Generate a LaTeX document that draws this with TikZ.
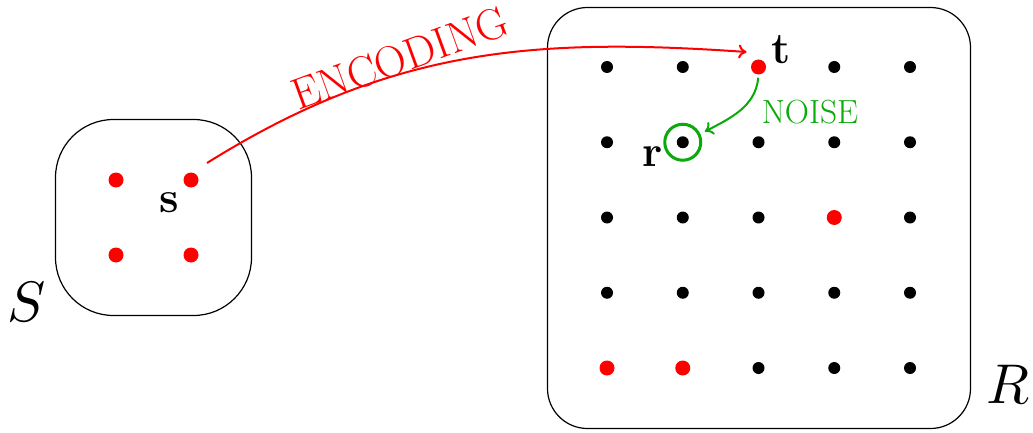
\documentclass[tikz,border=0pt]{standalone}
\usetikzlibrary{arrows.meta}
\definecolor{noisegreen}{RGB}{10,170,10}
\begin{document}
\begin{tikzpicture}[x=1pt,y=1pt,
  dot/.style={circle,fill=black,inner sep=0pt,minimum size=12pt},
  reddot/.style={circle,fill=red,inner sep=0pt,minimum size=15pt},
  setbox/.style={draw,line width=1.2pt,inner sep=0pt},
  ptlabel/.style={font=\fontsize{44}{44}\selectfont\bfseries},
  arrowtip/.style={-{To[length=8pt,width=14pt]}}]
\useasboundingbox (0,0) rectangle (1033,432);

% the two sets
\node[setbox,minimum width=196pt,minimum height=196pt,rounded corners=58pt] (Sbox) at (153.5,214.5) {};
\node[setbox,minimum width=423pt,minimum height=421pt,rounded corners=40pt] (Rbox) at (759,214) {};
\node (Slab) at (27,130) {\scalebox{5.7}{$S$}};
\node (Rlab) at (1008,48) {\scalebox{5.6}{$R$}};

% source points
\node[reddot] (s1) at (116,252) {};
\node[reddot] (s) at (191,252) {};
\node[reddot] (s3) at (116,177) {};
\node[reddot] (s4) at (191,177) {};
\node[ptlabel] (slab) at (169,229) {s};

% received word grid (red = codewords)
\foreach \c in {1,...,5}{
  \foreach \r in {1,...,5}{
    \def\sty{dot}
    \ifnum\c\r=31 \def\sty{reddot}\fi
    \ifnum\c\r=43 \def\sty{reddot}\fi
    \ifnum\c\r=15 \def\sty{reddot}\fi
    \ifnum\c\r=25 \def\sty{reddot}\fi
    \node[\sty] (g\c\r) at ({607+75.75*(\c-1)},{365-75.25*(\r-1)}) {};
  }
}
\node[ptlabel] (tlab) at (781,382) {t};
\node[ptlabel] (rlab) at (653,275) {r};
\node[draw=noisegreen,line width=3pt,circle,minimum size=36pt,inner sep=0pt] (rc) at (g22) {};

% encoding map
\draw[red,line width=2pt,arrowtip] ([shift={(16,17)}]s.center) to[out=32,in=176] ([shift={(-12,15)}]g31.center);
\node[red,font=\fontsize{44}{44}\selectfont,rotate=20,inner sep=1pt] (enc) at (400,374) {ENCODING};

% channel noise
\draw[noisegreen,line width=2pt,arrowtip,shorten <=3pt,shorten >=5pt] (g31.south) to[out=-95,in=28] (rc.25);
\node[noisegreen,font=\fontsize{33.5}{33.5}\selectfont] (noise) at (810,320) {NOISE};
\end{tikzpicture}
\end{document}
